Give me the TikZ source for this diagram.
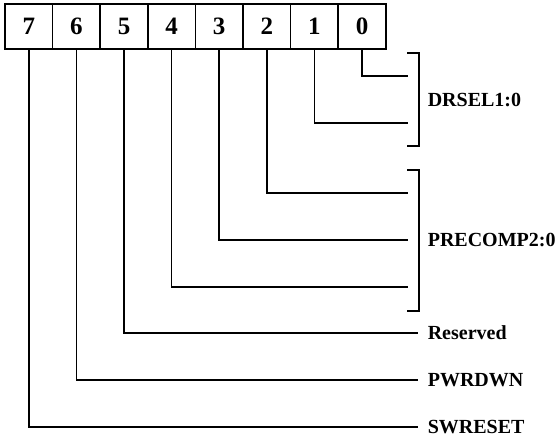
\documentclass[tikz,border=0pt]{standalone}
\usepackage{fontspec}
\setmainfont{Liberation Serif}
\begin{document}
\begin{tikzpicture}[x=1pt,y=-1pt,line width=1.6pt,
	bitbox/.style={draw,minimum width=47.6pt,minimum height=45pt,inner sep=0pt,
		font=\fontsize{25}{25}\selectfont\bfseries},
	field/.style={anchor=west,inner sep=0pt,font=\fontsize{20}{20}\selectfont\bfseries}]
\useasboundingbox (0,0) rectangle (555,439);
\foreach \i in {0,...,7}
	\node[bitbox] (b\i) at ({5+(7.5-\i)*47.6},26.5) {\i};
\foreach \i / \y / \e in {0/76/408,1/123/408,2/193/408,3/240/408,4/287/408,5/333/418,6/380/418,7/427/418}
{
	\coordinate (e\i) at (\e,\y);
	\draw (b\i.south) |- (e\i);
}
\draw (407,53) -- (419,53) -- (419,146) -- (407,146);
\draw (407,170) -- (419,170) -- (419,311) -- (407,311);
\node[field] (drsel) at (427,99.5) {DRSEL1:0};
\node[field] (precomp) at (427,240) {PRECOMP2:0};
\node[field] (rsvd) at (427,333) {Reserved};
\node[field] (pwrdwn) at (427,380) {PWRDWN};
\node[field] (swreset) at (427,427) {SWRESET};
\end{tikzpicture}
\end{document}
